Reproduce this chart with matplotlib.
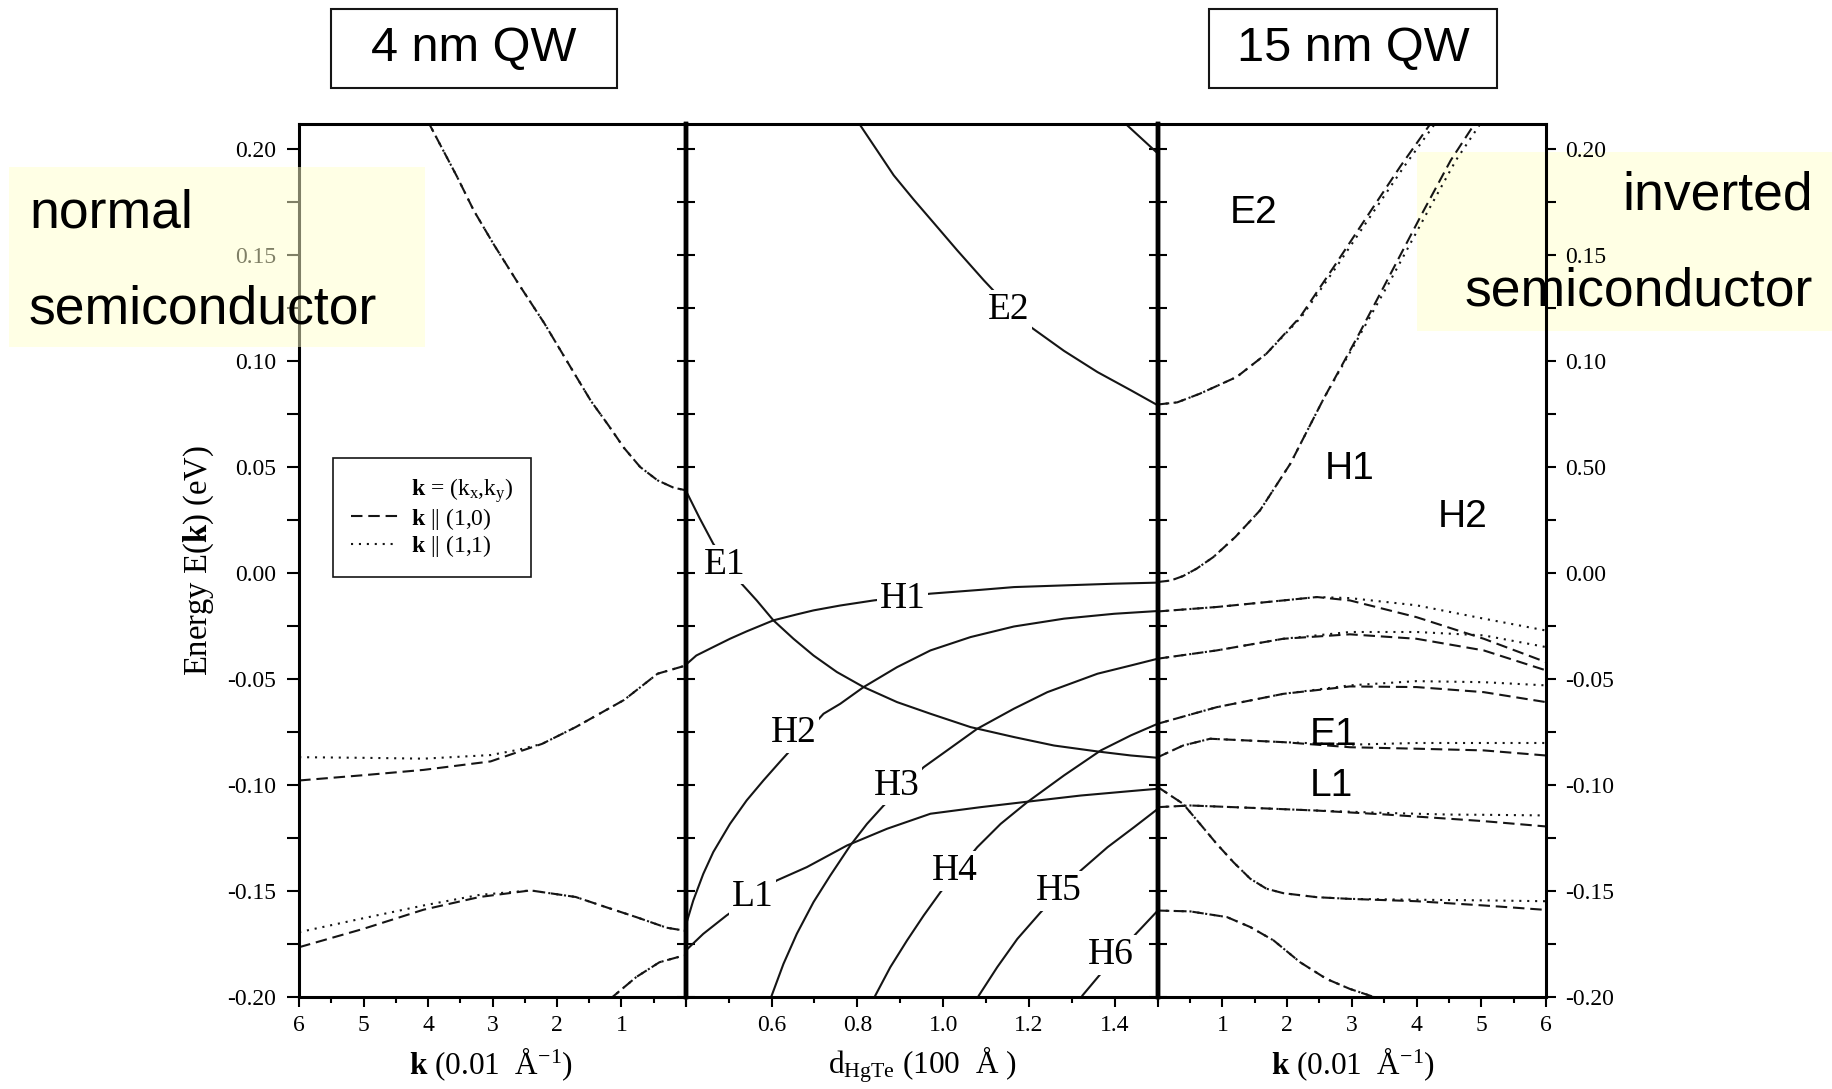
import numpy as np
import matplotlib
matplotlib.use("Agg")
import matplotlib.pyplot as plt
from matplotlib.lines import Line2D
from matplotlib.patches import Rectangle
from matplotlib.ticker import MultipleLocator

plt.rcParams['font.family'] = ['Liberation Serif', 'DejaVu Serif']
plt.rcParams['mathtext.fontset'] = 'custom'
plt.rcParams['mathtext.rm'] = 'Liberation Serif'
plt.rcParams['mathtext.it'] = 'Liberation Serif:italic'
plt.rcParams['mathtext.bf'] = 'Liberation Serif:bold'

# ---------------- 4 nm QW : E(k), k in 0.01 1/A ----------------
qw4_k_c = [4.0, 3.55, 3.29, 2.98, 2.60, 2.2, 1.73, 1.47, 1.20, 0.96, 0.71, 0.44, 0.19, 0.0]
qw4_e_c = [0.213, 0.187, 0.171, 0.155, 0.1366, 0.118, 0.0941, 0.081, 0.0696, 0.059,
           0.050, 0.0437, 0.0402, 0.039]

qw4_k_v1 = [6.0, 5.0, 4.07, 3.03, 2.6, 2.23, 1.71, 0.96, 0.44, 0.0]
qw4_e_v1_dash = [-0.098, -0.0955, -0.093, -0.089, -0.0845, -0.0807, -0.0728, -0.060, -0.0476, -0.0437]
qw4_e_v1_dot = [-0.087, -0.0873, -0.0877, -0.086, -0.0835, -0.0807, -0.0728, -0.060, -0.0476, -0.0437]

qw4_k_v2 = [6.0, 5.0, 4.07, 3.2, 2.41, 1.71, 1.22, 0.77, 0.3, 0.0]
qw4_e_v2_dash = [-0.1767, -0.168, -0.159, -0.153, -0.1499, -0.153, -0.158, -0.1625, -0.1675, -0.169]
qw4_e_v2_dot = [-0.1696, -0.163, -0.157, -0.152, -0.1499, -0.153, -0.158, -0.1625, -0.1675, -0.169]

qw4_k_v3 = [1.17, 0.77, 0.41, 0.09, 0.0]
qw4_e_v3 = [-0.201, -0.1908, -0.1838, -0.1811, -0.1806]

# ---------------- subband edges vs well width d (100 A) ----------------
d_E3 = [1.42, 1.5]
e_E3 = [0.2129, 0.198]
d_E2 = [0.8067, 0.8457, 0.8846, 0.9313, 0.978, 1.0325, 1.0947, 1.1531, 1.2037, 1.2815,
        1.3594, 1.4373, 1.5]
e_E2 = [0.2113, 0.1995, 0.1877, 0.1762, 0.1652, 0.1523, 0.1381, 0.1255, 0.1161, 0.1048,
        0.0948, 0.0862, 0.0791]
d_E1 = [0.4, 0.432, 0.464, 0.5265, 0.5654, 0.6043, 0.6511, 0.6978, 0.7522, 0.8145, 0.8924,
        0.9702, 1.0636, 1.1648, 1.2582, 1.3594, 1.4373, 1.5]
e_E1 = [0.039, 0.026, 0.0138, -0.0043, -0.0130, -0.0224, -0.0311, -0.0390, -0.0468, -0.0539,
        -0.0610, -0.0665, -0.0728, -0.0775, -0.0815, -0.0843, -0.0862, -0.0873]
d_H1 = [0.4, 0.4247, 0.4642, 0.5031, 0.542, 0.6043, 0.6588, 0.6978, 0.76, 0.8379, 0.9702,
        1.087, 1.1648, 1.2815, 1.3983, 1.5]
e_H1 = [-0.0434, -0.0390, -0.0350, -0.0311, -0.0276, -0.0224, -0.0196, -0.0177, -0.0154,
        -0.0130, -0.0098, -0.0080, -0.0067, -0.0059, -0.0051, -0.0046]
d_H2 = [0.4, 0.4175, 0.4409, 0.4642, 0.5031, 0.542, 0.581, 0.6199, 0.7211, 0.76, 0.8145,
        0.8924, 0.9702, 1.0636, 1.1648, 1.2815, 1.3983, 1.5]
e_H2 = [-0.1665, -0.1547, -0.1421, -0.1318, -0.1185, -0.1074, -0.0980, -0.0891, -0.0665,
        -0.0618, -0.0539, -0.0445, -0.0366, -0.0303, -0.0253, -0.0216, -0.0193, -0.0180]
d_H3 = [0.6004, 0.6277, 0.6588, 0.6978, 0.7367, 0.7834, 0.8223, 0.8612, 0.9546, 1.0091,
        1.0792, 1.1648, 1.2426, 1.3594, 1.4373, 1.5]
e_H3 = [-0.1995, -0.1846, -0.1704, -0.1554, -0.1429, -0.1287, -0.1185, -0.1098, -0.0917,
        -0.0838, -0.0736, -0.0641, -0.0563, -0.0476, -0.0437, -0.0405]
d_L1 = [0.4, 0.4409, 0.4953, 0.6121, 0.6822, 0.7756, 0.869, 0.9702, 1.087, 1.1882, 1.3205,
        1.4373, 1.5]
e_L1 = [-0.1783, -0.1704, -0.1617, -0.1452, -0.1389, -0.1287, -0.1208, -0.1137, -0.1106,
        -0.1082, -0.1051, -0.1030, -0.1019]
d_H4 = [0.8418, 0.8768, 0.9157, 0.9546, 0.9936, 1.0792, 1.1337, 1.196, 1.2815, 1.3672,
        1.4373, 1.5]
e_H4 = [-0.1995, -0.1861, -0.1735, -0.1617, -0.1507, -0.1295, -0.1185, -0.1082, -0.0956,
        -0.0838, -0.0767, -0.0712]
d_H5 = [1.0831, 1.1259, 1.1726, 1.2271, 1.3205, 1.3828, 1.445, 1.5]
e_H5 = [-0.1995, -0.1861, -0.1728, -0.1602, -0.1405, -0.1295, -0.1200, -0.1114]
d_H6 = [1.3244, 1.3633, 1.4489, 1.5]
e_H6 = [-0.1995, -0.1901, -0.1704, -0.1594]

# (label, d, E) for the middle panel
mid_labels = [("E2", 1.153, 0.124), ("E1", 0.490, 0.004), ("H1", 0.905, -0.0121),
              ("H2", 0.651, -0.0756), ("H3", 0.891, -0.1004), ("L1", 0.556, -0.1528),
              ("H4", 1.028, -0.1407), ("H5", 1.270, -0.150), ("H6", 1.390, -0.1804)]

# ---------------- 15 nm QW : E(k) ----------------
qw15_k_e2 = [0.0, 0.3, 0.65, 1.22, 1.68, 2.2, 2.72, 3.23, 3.75, 4.25]
qw15_k_e2_dot = [0.0, 0.3, 0.65, 1.22, 1.68, 2.22, 2.76, 3.28, 3.81, 4.32]
qw15_e_e2 = [0.0795, 0.0805, 0.0846, 0.0925, 0.1035, 0.1208, 0.1444, 0.168, 0.1919, 0.2135]

qw15_k_h1 = [0.0, 0.2, 0.39, 0.6, 0.86, 1.2, 1.58, 2.05, 2.56, 3.08, 3.52, 4.11, 4.53, 4.93]
qw15_k_h1_dot = [0.0, 0.2, 0.39, 0.6, 0.86, 1.2, 1.58, 2.05, 2.56, 3.1, 3.57, 4.18, 4.61, 5.02]
qw15_e_h1 = [-0.0043, -0.0036, -0.0015, 0.0020, 0.0075, 0.017, 0.0295, 0.0516, 0.082, 0.111,
             0.1366, 0.171, 0.1948, 0.2135]

qw15_k_h2 = [0.0, 0.91, 1.94, 2.46, 2.97, 4.0, 5.04, 6.0]
qw15_e_h2_dash = [-0.0182, -0.0161, -0.0130, -0.0114, -0.0130, -0.0209, -0.0311, -0.0421]
qw15_e_h2_dot = [-0.0182, -0.0161, -0.0130, -0.0114, -0.0119, -0.0153, -0.0216, -0.0272]

qw15_k_h3 = [0.0, 0.91, 1.94, 2.97, 4.0, 5.04, 6.0]
qw15_e_h3_dash = [-0.0405, -0.0366, -0.0311, -0.0290, -0.0311, -0.0366, -0.0460]
qw15_e_h3_dot = [-0.0405, -0.0366, -0.0311, -0.0279, -0.0279, -0.0295, -0.0350]

qw15_k_h4 = [0.0, 0.91, 1.94, 2.97, 4.0, 5.04, 6.0]
qw15_e_h4_dash = [-0.0712, -0.0634, -0.0571, -0.0536, -0.0539, -0.0563, -0.0610]
qw15_e_h4_dot = [-0.0712, -0.0634, -0.0571, -0.0531, -0.0511, -0.0516, -0.0531]

qw15_k_e1 = [0.0, 0.39, 0.81, 1.94, 2.97, 4.0, 5.04, 6.0]
qw15_e_e1_dash = [-0.0870, -0.0815, -0.0783, -0.0799, -0.0823, -0.0830, -0.0838, -0.0862]
qw15_e_e1_dot = [-0.0870, -0.0815, -0.0783, -0.0799, -0.0811, -0.0803, -0.0803, -0.0803]

qw15_k_l1 = [0.0, 0.39, 0.65, 0.91, 1.17, 1.43, 1.68, 1.94, 2.46, 2.97, 4.0, 5.04, 6.0]
qw15_e_l1_dash = [-0.1011, -0.1090, -0.1184, -0.1279, -0.1366, -0.1444, -0.1491, -0.1512,
                  -0.1531, -0.1539, -0.1550, -0.1570, -0.1591]
qw15_e_l1_dot = [-0.1011, -0.1090, -0.1184, -0.1279, -0.1366, -0.1444, -0.1491, -0.1512,
                 -0.1531, -0.1539, -0.1543, -0.1546, -0.1550]

qw15_k_h5 = [0.0, 0.5, 1.43, 2.46, 3.49, 4.52, 5.04, 6.0]
qw15_e_h5_dash = [-0.1106, -0.1098, -0.1109, -0.1122, -0.1140, -0.1161, -0.1172, -0.1197]
qw15_e_h5_dot = [-0.1106, -0.1098, -0.1109, -0.1122, -0.1133, -0.1141, -0.1142, -0.1145]

qw15_k_h6 = [0.0, 0.5, 1.07, 1.43, 1.79, 2.2, 2.61, 2.97, 3.42]
qw15_e_h6 = [-0.1594, -0.1598, -0.1625, -0.1672, -0.1735, -0.1838, -0.1917, -0.1964, -0.201]

right_labels = [("E2", 1.48, 0.170), ("H1", 2.96, 0.0491), ("H2", 4.72, 0.0265),
                ("E1", 2.71, -0.0767), ("L1", 2.68, -0.1004)]

e_ticks = [-0.20, -0.15, -0.10, -0.05, 0.00, 0.05, 0.10, 0.15, 0.20]
e_labels_left = ['-0.20', '-0.15', '-0.10', '-0.05', '0.00', '0.05', '0.10', '0.15', '0.20']
e_labels_right = ['-0.20', '-0.15', '-0.10', '-0.05', '0.00', '0.50', '0.10', '0.15', '0.20']

INK = '#151515'
DASH = (0, (5.5, 2.8))
DOT = (0, (1, 2.8))
LW = 1.5


def band(ax, k, e_dash, k_dot=None, e_dot=None):
    """draw one band as k||(1,0) dashed plus k||(1,1) dotted"""
    if k_dot is None:
        k_dot = k
    if e_dot is None:
        e_dot = e_dash
    ax.plot(k, e_dash, ls=DASH, lw=LW, color=INK)
    ax.plot(k_dot, e_dot, ls=DOT, lw=LW, color=INK)


def style_axes(ax):
    ax.set_facecolor('none')
    ax.set_ylim(-0.2, 0.212)
    ax.set_yticks(e_ticks)
    ax.yaxis.set_minor_locator(MultipleLocator(0.025))
    for s in ax.spines.values():
        s.set_linewidth(2.2)
    ax.tick_params(axis='x', which='both', bottom=True, top=False, direction='out',
                   width=1.5, labelsize=17, pad=6)
    ax.tick_params(axis='x', which='major', length=7)
    ax.tick_params(axis='x', which='minor', length=4.5)


fig = plt.figure(figsize=(18.32, 10.89), dpi=100)
ax_l = fig.add_axes([0.1633, 0.0849, 0.2111, 0.8014])
ax_m = fig.add_axes([0.3743, 0.0849, 0.2577, 0.8014])
ax_r = fig.add_axes([0.6320, 0.0849, 0.2118, 0.8014])
for ax in (ax_l, ax_m, ax_r):
    style_axes(ax)

# ---- left: 4 nm QW ----
band(ax_l, qw4_k_c, qw4_e_c)
band(ax_l, qw4_k_v1, qw4_e_v1_dash, qw4_k_v1, qw4_e_v1_dot)
band(ax_l, qw4_k_v2, qw4_e_v2_dash, qw4_k_v2, qw4_e_v2_dot)
band(ax_l, qw4_k_v3, qw4_e_v3)
ax_l.set_xlim(6, 0)
ax_l.set_xticks([0, 1, 2, 3, 4, 5, 6])
ax_l.set_xticklabels(['', '1', '2', '3', '4', '5', '6'])
ax_l.xaxis.set_minor_locator(MultipleLocator(0.5))
ax_l.set_yticklabels(e_labels_left)
ax_l.tick_params(axis='y', which='both', left=True, right=False, direction='out',
                 length=8.5, width=1.5, labelsize=17, pad=8)
ax_l.spines['right'].set_linewidth(3.2)
ax_l.set_xlabel(r'$\mathbf{k}$ (0.01  Å$^{-1}$)', fontsize=22.5, va='center')
ax_l.xaxis.set_label_coords(0.496, -0.078)
ax_l.set_ylabel(r'Energy E($\mathbf{k}$) (eV)', fontsize=23.5)
ax_l.yaxis.set_label_coords(-0.215, 0.5)

handles = [Line2D([], [], color='none'),
           Line2D([], [], color=INK, ls=DASH, lw=LW),
           Line2D([], [], color=INK, ls=DOT, lw=LW)]
labels = [r'$\mathbf{k}$ = (k$_\mathrm{x}$,k$_\mathrm{y}$)',
          r'$\mathbf{k}$ || (1,0)', r'$\mathbf{k}$ || (1,1)']
leg = ax_l.legend(handles, labels, loc='upper left', bbox_to_anchor=(0.0877, 0.617),
                  borderaxespad=0, fontsize=17, frameon=True, fancybox=False,
                  edgecolor=INK, framealpha=1, handlelength=2.0, handletextpad=0.55,
                  borderpad=0.75, labelspacing=0.05)
leg.get_frame().set_linewidth(1.2)

# ---- middle: levels vs well width ----
for d, e in [(d_E3, e_E3), (d_E2, e_E2), (d_E1, e_E1), (d_H1, e_H1), (d_H2, e_H2),
             (d_H3, e_H3), (d_L1, e_L1), (d_H4, e_H4), (d_H5, e_H5), (d_H6, e_H6)]:
    ax_m.plot(d, e, color=INK, lw=1.5)
for name, d, e in mid_labels:
    ax_m.text(d, e, name, fontsize=27, ha='center', va='center', zorder=5,
              bbox=dict(facecolor='white', edgecolor='none', pad=2))
ax_m.set_xlim(0.4, 1.5)
ax_m.set_xticks([0.4, 0.6, 0.8, 1.0, 1.2, 1.4])
ax_m.set_xticklabels(['', '0.6', '0.8', '1.0', '1.2', '1.4'])
ax_m.xaxis.set_minor_locator(MultipleLocator(0.1))
ax_m.tick_params(axis='y', which='both', left=True, right=True, direction='inout',
                 length=13, width=1.5, labelleft=False, labelright=False)
ax_m.spines['left'].set_linewidth(3.2)
ax_m.spines['right'].set_linewidth(3.2)
ax_m.set_xlabel(r'd$_{\mathrm{HgTe}}$ (100  Å )', fontsize=22.5, va='center')
ax_m.xaxis.set_label_coords(0.502, -0.078)

# ---- right: 15 nm QW ----
band(ax_r, qw15_k_e2, qw15_e_e2, qw15_k_e2_dot, qw15_e_e2)
band(ax_r, qw15_k_h1, qw15_e_h1, qw15_k_h1_dot, qw15_e_h1)
band(ax_r, qw15_k_h2, qw15_e_h2_dash, qw15_k_h2, qw15_e_h2_dot)
band(ax_r, qw15_k_h3, qw15_e_h3_dash, qw15_k_h3, qw15_e_h3_dot)
band(ax_r, qw15_k_h4, qw15_e_h4_dash, qw15_k_h4, qw15_e_h4_dot)
band(ax_r, qw15_k_e1, qw15_e_e1_dash, qw15_k_e1, qw15_e_e1_dot)
band(ax_r, qw15_k_l1, qw15_e_l1_dash, qw15_k_l1, qw15_e_l1_dot)
band(ax_r, qw15_k_h5, qw15_e_h5_dash, qw15_k_h5, qw15_e_h5_dot)
band(ax_r, qw15_k_h6, qw15_e_h6)
for name, k, e in right_labels:
    ax_r.text(k, e, name, fontsize=28, family='Liberation Sans', ha='center',
              va='center', zorder=5)
ax_r.set_xlim(0, 6)
ax_r.set_xticks([0, 1, 2, 3, 4, 5, 6])
ax_r.set_xticklabels(['', '1', '2', '3', '4', '5', '6'])
ax_r.xaxis.set_minor_locator(MultipleLocator(0.5))
ax_r.yaxis.tick_right()
ax_r.set_yticklabels(e_labels_right)
ax_r.tick_params(axis='y', which='both', left=False, right=True, direction='out',
                 length=7, width=1.5, labelsize=17, pad=7,
                 labelleft=False, labelright=True)
ax_r.spines['left'].set_linewidth(3.2)
ax_r.set_xlabel(r'$\mathbf{k}$ (0.01  Å$^{-1}$)', fontsize=22.5, va='center')
ax_r.xaxis.set_label_coords(0.503, -0.078)

# ---- boxes and annotations around the panels ----
W, H = 1832.0, 1089.0


def fig_rect(x0, y0, x1, y1, **kw):
    r = Rectangle((x0 / W, 1 - y1 / H), (x1 - x0) / W, (y1 - y0) / H,
                  transform=fig.transFigure, **kw)
    fig.add_artist(r)


fig_rect(330.6, 9.3, 616.9, 87.6, fill=False, lw=1.5, edgecolor=INK)
fig.text(473.8 / W, 1 - 49 / H, '4 nm QW', family='Liberation Sans', fontsize=35,
         ha='center', va='center')
fig_rect(1209.3, 9.3, 1496.7, 87.6, fill=False, lw=1.5, edgecolor=INK)
fig.text(1353 / W, 1 - 49 / H, '15 nm QW', family='Liberation Sans', fontsize=35,
         ha='center', va='center')

# pale yellow notes: left one sits over the axis, right one behind the curves
fig_rect(9.3, 167, 425.3, 347, facecolor='#ffffcc', edgecolor='none', alpha=0.5, zorder=4)
fig.text(29 / W, 1 - 214 / H, 'normal', family='Liberation Sans', fontsize=38.5,
         ha='left', va='center', zorder=6)
fig.text(29 / W, 1 - 309 / H, 'semiconductor', family='Liberation Sans', fontsize=38.5,
         ha='left', va='center', zorder=6)

fig_rect(1417.2, 151.9, 1832, 330.7, facecolor='#ffffe4', edgecolor='none', zorder=-1)
fig.text(1813 / W, 1 - 196 / H, 'inverted', family='Liberation Sans', fontsize=38.5,
         ha='right', va='center', zorder=6)
fig.text(1813 / W, 1 - 292 / H, 'semiconductor', family='Liberation Sans', fontsize=38.5,
         ha='right', va='center', zorder=6)

fig.savefig('out.png', dpi=100)
